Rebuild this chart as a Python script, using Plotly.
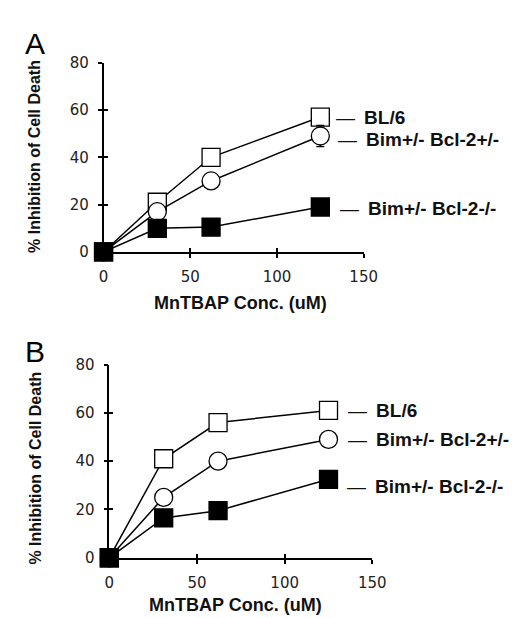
import plotly.graph_objects as go

conc = [0, 31, 62, 125]
x_ticks = [0, 50, 100, 150]
y_ticks = [0, 20, 40, 60, 80]

series_names = ["BL/6", "Bim+/- Bcl-2+/-", "Bim+/- Bcl-2-/-"]

a_bl6 = [0, 21, 40, 57]
a_het = [0, 17, 30, 49]
a_het_err = [0, 0, 0, 4.5]
a_ko = [0, 10, 10.5, 19]

b_bl6 = [0, 41, 56, 61]
b_het = [0, 25, 40, 49]
b_ko = [0, 16.5, 19.5, 32.5]
b_ko_err = [0, 0, 0, 2.5]

panel_labels = ["A", "B"]
x_title = "MnTBAP Conc. (uM)"
y_title = "% Inhibition of Cell Death"

FONT = "Liberation Sans, Arial, sans-serif"
TICKFONT = "DejaVu Sans, Verdana, sans-serif"

fig = go.Figure()

styles = [
    dict(symbol="square", color="white"),
    dict(symbol="circle", color="white"),
    dict(symbol="square", color="black"),
]


def add_panel(xa, ya, vals, errs):
    for i, (v, e) in enumerate(zip(vals, errs)):
        st = styles[i]
        tr = go.Scatter(
            x=conc, y=v, mode="lines+markers",
            line=dict(color="black", width=1.5),
            marker=dict(symbol=st["symbol"], size=18, color=st["color"],
                        line=dict(color="black", width=1.3)),
            xaxis=xa, yaxis=ya, showlegend=False, cliponaxis=False,
            name=series_names[i],
        )
        if e is not None:
            tr.error_y = dict(type="data", array=e, visible=True,
                              color="black", thickness=1.3, width=4)
        fig.add_trace(tr)


add_panel("x", "y", [a_bl6, a_het, a_ko], [None, a_het_err, None])
add_panel("x2", "y2", [b_bl6, b_het, b_ko], [None, None, b_ko_err])

W, H = 519, 618

def px(v):
    return v / W

def py(v):
    return 1 - v / H

axis_common = dict(
    showgrid=False, zeroline=False, showline=True, linecolor="black",
    linewidth=1.5, ticks="outside", ticklen=4, tickwidth=1.5, tickcolor="black",
    tickfont=dict(family=TICKFONT, size=15, color="#222"),
)

XA = [px(94), px(364)]
XB = [px(100), px(373)]
YA = [py(242), py(47)]
YB = [py(557), py(358)]

layout = dict(
    width=W, height=H, margin=dict(l=0, r=0, t=0, b=0),
    paper_bgcolor="white", plot_bgcolor="white",
    xaxis=dict(domain=XA, range=[0, 150], tickvals=x_ticks,
               anchor="y", ticklabelstandoff=6, **axis_common),
    yaxis=dict(domain=YA, range=[0, 80], tickvals=y_ticks,
               anchor="x", ticklabelstandoff=6, **axis_common),
    xaxis2=dict(domain=XB, range=[0, 150], tickvals=x_ticks,
                anchor="y2", ticklabelstandoff=6, **axis_common),
    yaxis2=dict(domain=YB, range=[0, 80], tickvals=y_ticks,
                anchor="x2", ticklabelstandoff=6, **axis_common),
)
for name, base, anch, dom in [("xaxis3", "x", "y", XA), ("xaxis4", "x2", "y2", XB)]:
    layout[name] = dict(domain=dom, range=[0, 150], tickvals=x_ticks, overlaying=base,
                        anchor=anch, ticks="inside", ticklen=4, tickwidth=1.5,
                        tickcolor="black", showticklabels=False, showgrid=False,
                        zeroline=False, showline=False)
for name, base, anch, dom in [("yaxis3", "y", "x", YA), ("yaxis4", "y2", "x2", YB)]:
    layout[name] = dict(domain=dom, range=[0, 80], tickvals=y_ticks, overlaying=base,
                        anchor=anch, ticks="inside", ticklen=4, tickwidth=1.5,
                        tickcolor="black", showticklabels=False, showgrid=False,
                        zeroline=False, showline=False)

fig.update_layout(**layout)
fig.add_trace(go.Scatter(x=[0], y=[0], xaxis="x3", yaxis="y3", mode="markers",
                         marker=dict(opacity=0), showlegend=False, hoverinfo="skip"))
fig.add_trace(go.Scatter(x=[0], y=[0], xaxis="x4", yaxis="y4", mode="markers",
                         marker=dict(opacity=0), showlegend=False, hoverinfo="skip"))

ann = []
for lab, top in [(panel_labels[0], 8), (panel_labels[1], 325)]:
    ann.append(dict(text=lab, x=px(10), y=py(top), xref="paper", yref="paper",
                    xanchor="left", yanchor="top", showarrow=False,
                    font=dict(family=FONT, size=30, color="black")))
for cx, cy in [(236, 295), (231, 606)]:
    ann.append(dict(text="<b>" + x_title + "</b>", x=px(cx), y=py(cy), xref="paper",
                    yref="paper", xanchor="center", yanchor="middle", showarrow=False,
                    font=dict(family=FONT, size=18, color="#111")))
for cy in [144, 465]:
    ann.append(dict(text="<b>" + y_title + "</b>", x=px(23), y=py(cy), xref="paper",
                    yref="paper", xanchor="center", yanchor="middle", showarrow=False,
                    textangle=-90, font=dict(family=FONT, size=16, color="#111")))


def series_labels(xr, yr, vals, shifts, dys):
    for name, v, s, dy in zip(series_names, vals, shifts, dys):
        ann.append(dict(text="<span style='font-weight:normal'>\u2014</span>\u2009 <b>" + name + "</b>",
                        x=conc[-1], y=v[-1], xref=xr, yref=yr, xanchor="left",
                        yanchor="middle", xshift=s, yshift=dy, showarrow=False,
                        font=dict(family=FONT, size=19, color="#111")))

series_labels("x", "y", [a_bl6, a_het, a_ko], [14, 16, 18], [0, -4, -2])
series_labels("x2", "y2", [b_bl6, b_het, b_ko], [17, 17, 16], [0, 0, -7])

fig.update_layout(annotations=ann)
fig.write_html("out.html")
